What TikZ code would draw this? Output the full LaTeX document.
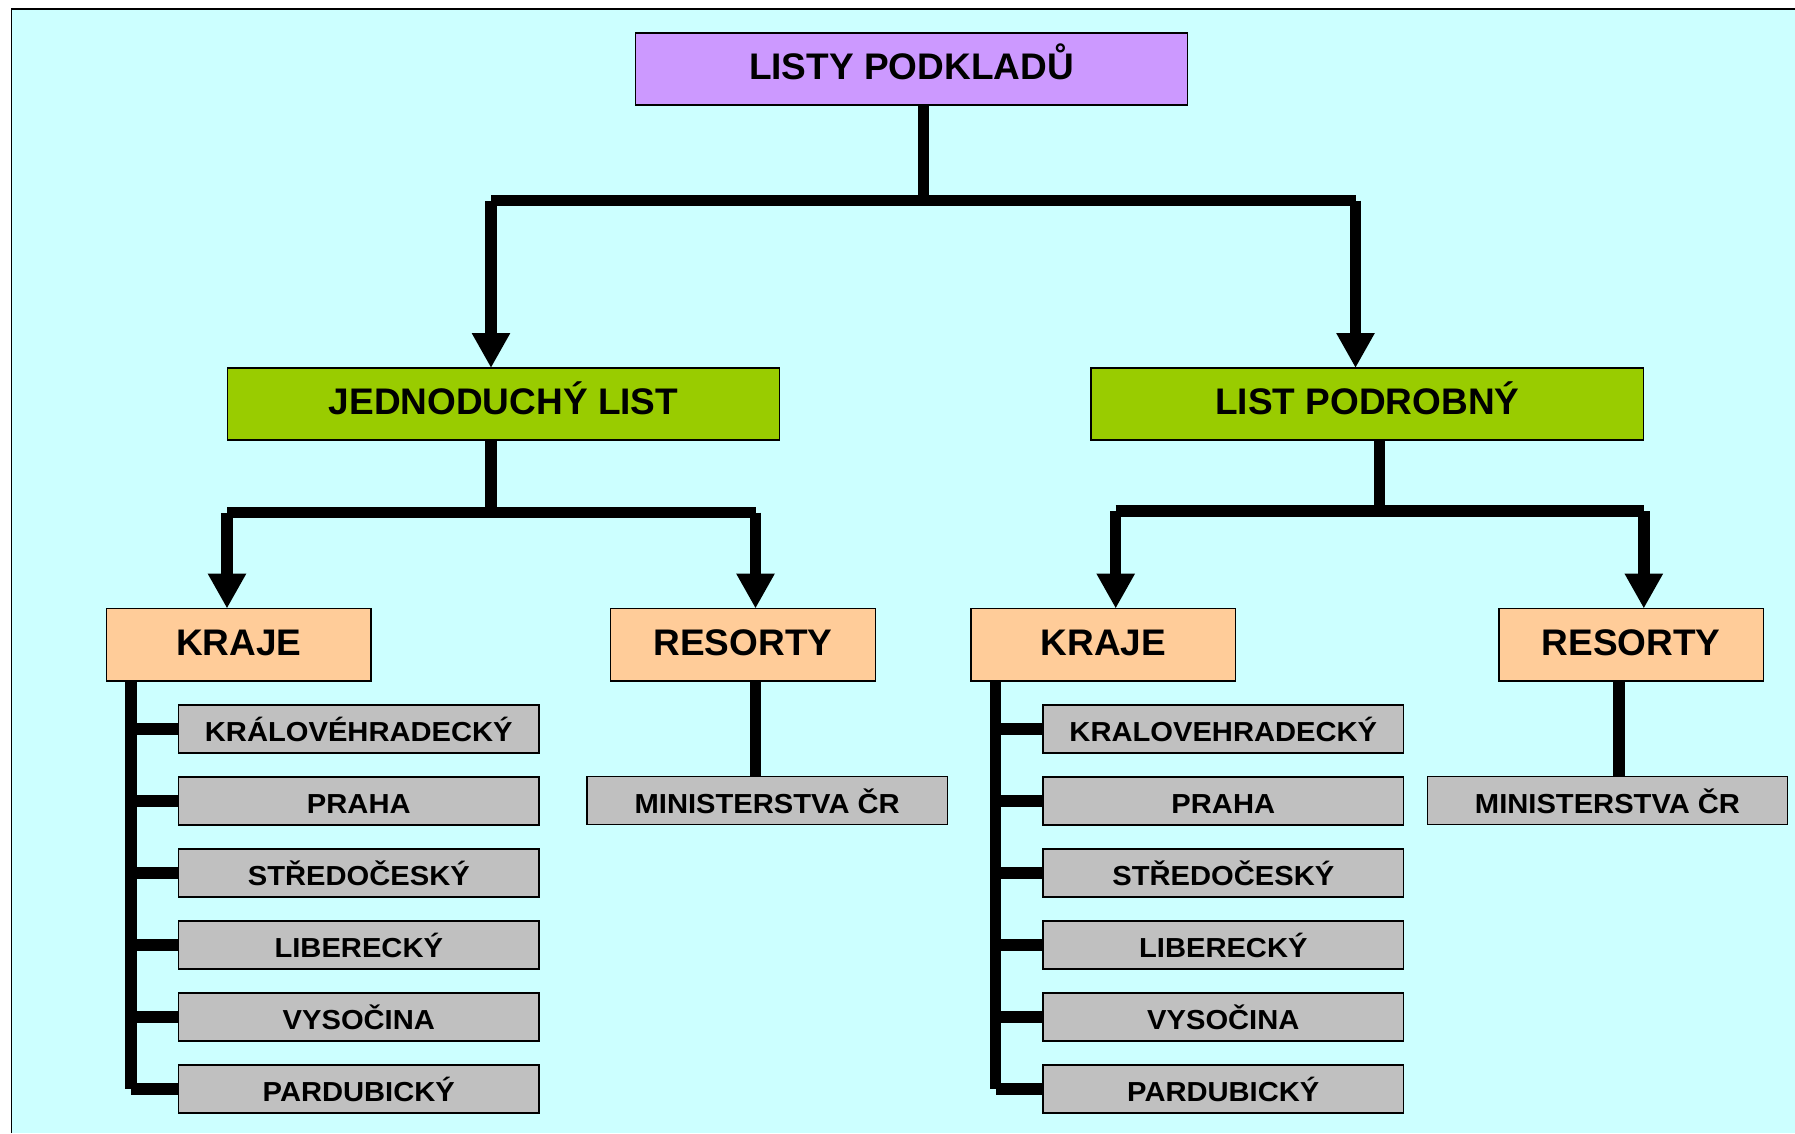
\documentclass[tikz,border=0pt]{standalone}
\usepackage{fontspec}
\setmainfont{Liberation Sans}
\newfontfamily\itemfam{Liberation Sans}[FakeStretch=1.06]
\usepackage{xcolor}
\definecolor{sky}{RGB}{204,255,255}
\definecolor{lilac}{RGB}{204,153,255}
\definecolor{leaf}{RGB}{153,204,0}
\definecolor{peach}{RGB}{255,204,153}
\definecolor{grey}{RGB}{192,192,192}
\usetikzlibrary{positioning, calc, arrows.meta}
\newcommand{\headfont}{\fontsize{37pt}{40pt}\selectfont\bfseries}
\newcommand{\itemfont}{\itemfam\fontsize{27.5pt}{30pt}\selectfont\bfseries}
\tikzstyle{Box} = [
draw=black, line width=1.3pt,
inner sep=0pt, outer sep=0pt]
\tikzstyle{Head} = [Box, minimum width=552.5pt, minimum height=72pt,
font=\headfont, text height=26pt, text depth=5.5pt]
\tikzstyle{Group} = [Box, fill=peach, minimum width=264.5pt, minimum height=72.5pt,
font=\headfont, text height=26pt, text depth=5.5pt]
\tikzstyle{Item} = [Box, fill=grey, minimum width=360.5pt, minimum height=48pt,
font=\itemfont, text height=25.5pt, text depth=0pt]
\tikzstyle{Line} = [line width=11.5pt]
\tikzstyle{Arrow} = [
line width=11.5pt,
-{Triangle[length=35pt, width=36pt]}]

\begin{document}
\begin{tikzpicture}[x=1pt, y=-1pt]
    \useasboundingbox (0,0) rectangle (1795,1133);
    \fill[sky] (11.3,9.2) rectangle (1795,1133);
    \draw[line width=1.5pt] (11.3,1133) -- (11.3,9.2) -- (1795,9.2);

    \node [Head, fill=lilac] (1) at (911.4,69) {LISTY PODKLADŮ};
    \node [Head, fill=leaf] (2) at (503.5,404) {JEDNODUCHÝ LIST};
    \node [Head, fill=leaf] (3) at (1367.3,404) {LIST PODROBNÝ};
    \node [Group] (4) at (238.8,644.8) {KRAJE};
    \node [Group] (5) at (743,644.8) {RESORTY};
    \node [Group] (6) at (1103.3,644.8) {KRAJE};
    \node [Group] (7) at (1631.2,644.8) {RESORTY};

    \node [Item, below right=24pt and 72pt of 4.south west] (8) {KRÁLOVÉHRADECKÝ};
    \node [Item, below=24pt of 8] (9) {PRAHA};
    \node [Item, below=24pt of 9] (10) {STŘEDOČESKÝ};
    \node [Item, below=24pt of 10] (11) {LIBERECKÝ};
    \node [Item, below=24pt of 11] (12) {VYSOČINA};
    \node [Item, below=24pt of 12] (13) {PARDUBICKÝ};
    \node [Item, below=95.5pt of 5, xshift=24.2pt] (14) {MINISTERSTVA ČR};

    \node [Item, below right=24pt and 72pt of 6.south west] (15) {KRALOVEHRADECKÝ};
    \node [Item, below=24pt of 15] (16) {PRAHA};
    \node [Item, below=24pt of 16] (17) {STŘEDOČESKÝ};
    \node [Item, below=24pt of 17] (18) {LIBERECKÝ};
    \node [Item, below=24pt of 18] (19) {VYSOČINA};
    \node [Item, below=24pt of 19] (20) {PARDUBICKÝ};
    \node [Item, below=95.5pt of 7, xshift=-23.7pt] (21) {MINISTERSTVA ČR};

    \coordinate (a1) at (491,200.5);
    \coordinate (a2) at (1355.5,200.5);
    \coordinate (b1) at (227,512.5);
    \coordinate (b2) at (755.5,512.5);
    \coordinate (c1) at (1115.7,511);
    \coordinate (c2) at (1643.8,511);
    \coordinate (s1) at ([xshift=24.5pt]4.south west);
    \coordinate (s2) at ([xshift=24.5pt]6.south west);

    \draw[Line] ([xshift=12pt]1.south) -- ([xshift=12pt]1.south |- a1);
    \draw[Line] (a1) -- (a2);
    \draw[Arrow] (a1) -- (a1 |- 2.north);
    \draw[Arrow] (a2) -- (a2 |- 3.north);

    \draw[Line] (a1 |- 2.south) -- (a1 |- b1);
    \draw[Line] (b1) -- (b2);
    \draw[Arrow] (b1) -- (b1 |- 4.north);
    \draw[Arrow] (b2) -- (b2 |- 5.north);

    \draw[Line] ([xshift=12pt]3.south) -- ([xshift=12pt]3.south |- c1);
    \draw[Line] (c1) -- (c2);
    \draw[Arrow] (c1) -- (c1 |- 6.north);
    \draw[Arrow] (c2) -- (c2 |- 7.north);

    \draw[Line] (b2 |- 5.south) -- (b2 |- 14.north);
    \draw[Line] ([xshift=-12pt]7.south) -- ([xshift=-12pt]7.south |- 21.north);

    %\draw[Line] (4.south) -- (8.west);
    \draw[Line] (s1) -- (s1 |- 13.west);
    \draw[Line] (s1 |- 8.west) -- (8.west) (s1 |- 9.west) -- (9.west)
        (s1 |- 10.west) -- (10.west) (s1 |- 11.west) -- (11.west)
        (s1 |- 12.west) -- (12.west) (s1 |- 13.west) -- (13.west);
    \draw[Line] (s2) -- (s2 |- 20.west);
    \draw[Line] (s2 |- 15.west) -- (15.west) (s2 |- 16.west) -- (16.west)
        (s2 |- 17.west) -- (17.west) (s2 |- 18.west) -- (18.west)
        (s2 |- 19.west) -- (19.west) (s2 |- 20.west) -- (20.west);
\end{tikzpicture}
\end{document}
